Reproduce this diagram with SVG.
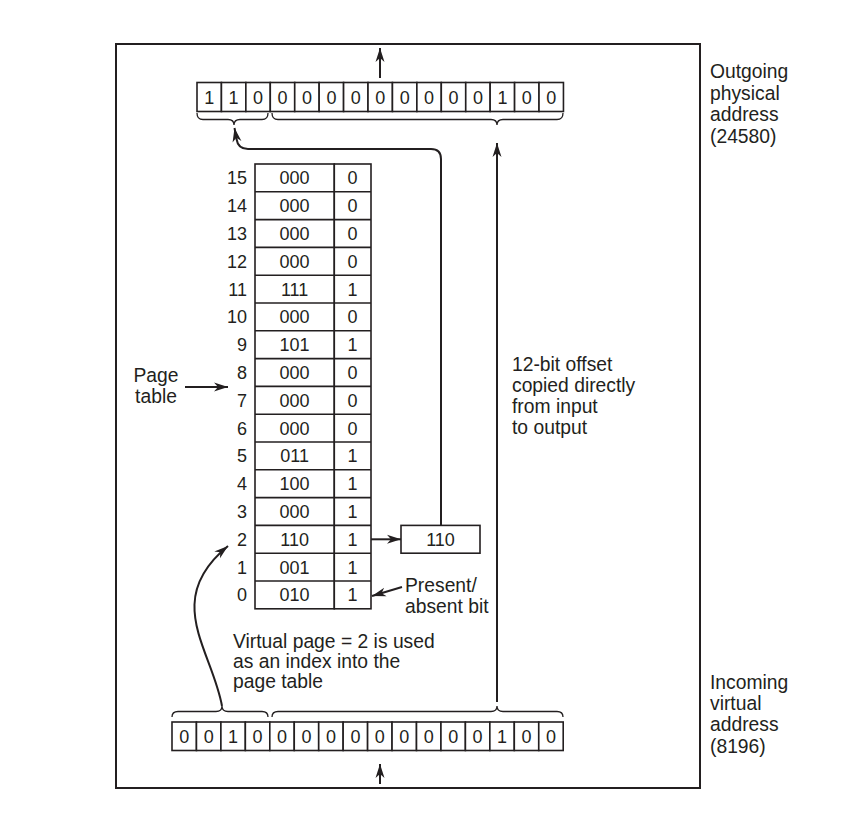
<svg xmlns="http://www.w3.org/2000/svg" width="868" height="816" viewBox="0 0 868 816">
<defs>
<style>
text{font-family:"Liberation Sans",Arial,sans-serif;font-size:18px;fill:#231f20}
.lb text{font-size:19.3px}
.c{text-anchor:middle}
.r{text-anchor:end}
.cell{fill:#fff;stroke:#231f20;stroke-width:1.6}
.ln{fill:none;stroke:#231f20;stroke-width:2}
.br{fill:none;stroke:#231f20;stroke-width:1.3}
</style>
<marker id="ah" markerUnits="userSpaceOnUse" markerWidth="16" markerHeight="10" viewBox="-14 -5 16 10" refX="0" refY="0" orient="auto">
<path d="M0,0 L-14,-4.5 L-10,0 L-14,4.5 Z" fill="#231f20"/>
</marker>
</defs>
<rect width="868" height="816" fill="#fff"/>
<rect id="frame" x="116" y="44" width="584" height="744" fill="none" stroke="#231f20" stroke-width="2"/>

<g id="outgoing">
<g id="outgoing-cells">
<rect class="cell" x="197" y="82.5" width="24.43" height="29"/>
<rect class="cell" x="221.43" y="82.5" width="24.43" height="29"/>
<rect class="cell" x="245.86" y="82.5" width="24.43" height="29"/>
<rect class="cell" x="270.29" y="82.5" width="24.43" height="29"/>
<rect class="cell" x="294.72" y="82.5" width="24.43" height="29"/>
<rect class="cell" x="319.15" y="82.5" width="24.43" height="29"/>
<rect class="cell" x="343.58" y="82.5" width="24.43" height="29"/>
<rect class="cell" x="368.01" y="82.5" width="24.43" height="29"/>
<rect class="cell" x="392.44" y="82.5" width="24.43" height="29"/>
<rect class="cell" x="416.87" y="82.5" width="24.43" height="29"/>
<rect class="cell" x="441.3" y="82.5" width="24.43" height="29"/>
<rect class="cell" x="465.73" y="82.5" width="24.43" height="29"/>
<rect class="cell" x="490.16" y="82.5" width="24.43" height="29"/>
<rect class="cell" x="514.59" y="82.5" width="24.43" height="29"/>
<rect class="cell" x="539.02" y="82.5" width="24.43" height="29"/>
</g>
<g class="c">
<text x="209.2" y="103.5">1</text>
<text x="233.6" y="103.5">1</text>
<text x="258.1" y="103.5">0</text>
<text x="282.5" y="103.5">0</text>
<text x="306.9" y="103.5">0</text>
<text x="331.4" y="103.5">0</text>
<text x="355.8" y="103.5">0</text>
<text x="380.2" y="103.5">0</text>
<text x="404.7" y="103.5">0</text>
<text x="429.1" y="103.5">0</text>
<text x="453.5" y="103.5">0</text>
<text x="477.9" y="103.5">0</text>
<text x="502.4" y="103.5">1</text>
<text x="526.8" y="103.5">0</text>
<text x="551.2" y="103.5">0</text>
</g>
<path class="br" d="M197,113 Q197,119.5 203,119.5 H228 Q234,119.5 234,125 Q234,119.5 240,119.5 H262 Q268,119.5 268,113"/>
<path class="br" d="M272,113 Q272,119.5 278,119.5 H491 Q497,119.5 497,125 Q497,119.5 503,119.5 H557 Q563,119.5 563,113"/>
<g class="lb">
<text x="710" y="78">Outgoing</text>
<text x="710" y="99.5">physical</text>
<text x="710" y="121">address</text>
<text x="710" y="142.5">(24580)</text>
</g>
</g>

<g id="incoming">
<g id="incoming-cells">
<rect class="cell" x="172" y="722" width="24.45" height="28.5"/>
<rect class="cell" x="196.45" y="722" width="24.45" height="28.5"/>
<rect class="cell" x="220.9" y="722" width="24.45" height="28.5"/>
<rect class="cell" x="245.35" y="722" width="24.45" height="28.5"/>
<rect class="cell" x="269.8" y="722" width="24.45" height="28.5"/>
<rect class="cell" x="294.25" y="722" width="24.45" height="28.5"/>
<rect class="cell" x="318.7" y="722" width="24.45" height="28.5"/>
<rect class="cell" x="343.15" y="722" width="24.45" height="28.5"/>
<rect class="cell" x="367.6" y="722" width="24.45" height="28.5"/>
<rect class="cell" x="392.05" y="722" width="24.45" height="28.5"/>
<rect class="cell" x="416.5" y="722" width="24.45" height="28.5"/>
<rect class="cell" x="440.95" y="722" width="24.45" height="28.5"/>
<rect class="cell" x="465.4" y="722" width="24.45" height="28.5"/>
<rect class="cell" x="489.85" y="722" width="24.45" height="28.5"/>
<rect class="cell" x="514.3" y="722" width="24.45" height="28.5"/>
<rect class="cell" x="538.75" y="722" width="24.45" height="28.5"/>
</g>
<g class="c">
<text x="184.2" y="742.5">0</text>
<text x="208.7" y="742.5">0</text>
<text x="233.1" y="742.5">1</text>
<text x="257.6" y="742.5">0</text>
<text x="282" y="742.5">0</text>
<text x="306.5" y="742.5">0</text>
<text x="330.9" y="742.5">0</text>
<text x="355.4" y="742.5">0</text>
<text x="379.8" y="742.5">0</text>
<text x="404.3" y="742.5">0</text>
<text x="428.7" y="742.5">0</text>
<text x="453.2" y="742.5">0</text>
<text x="477.6" y="742.5">0</text>
<text x="502.1" y="742.5">1</text>
<text x="526.5" y="742.5">0</text>
<text x="551" y="742.5">0</text>
</g>
<path class="br" d="M172,717 Q172,711.5 178,711.5 H216 Q222,711.5 222,706 Q222,711.5 228,711.5 H262 Q268,711.5 268,717"/>
<path class="br" d="M272,717 Q272,711.5 278,711.5 H491 Q497,711.5 497,706 Q497,711.5 503,711.5 H557 Q563,711.5 563,717"/>
<g class="lb">
<text x="710" y="688.5">Incoming</text>
<text x="710" y="709.5">virtual</text>
<text x="710" y="731">address</text>
<text x="710" y="752.5">(8196)</text>
</g>
</g>

<g id="page-table">
<rect class="cell" x="255" y="164" width="79.3" height="444.8"/>
<rect class="cell" x="334.3" y="164" width="36.7" height="444.8"/>
<g stroke="#231f20" stroke-width="1.6">
<line x1="255" y1="191.8" x2="371" y2="191.8"/>
<line x1="255" y1="219.6" x2="371" y2="219.6"/>
<line x1="255" y1="247.4" x2="371" y2="247.4"/>
<line x1="255" y1="275.2" x2="371" y2="275.2"/>
<line x1="255" y1="303" x2="371" y2="303"/>
<line x1="255" y1="330.8" x2="371" y2="330.8"/>
<line x1="255" y1="358.6" x2="371" y2="358.6"/>
<line x1="255" y1="386.4" x2="371" y2="386.4"/>
<line x1="255" y1="414.2" x2="371" y2="414.2"/>
<line x1="255" y1="442" x2="371" y2="442"/>
<line x1="255" y1="469.8" x2="371" y2="469.8"/>
<line x1="255" y1="497.6" x2="371" y2="497.6"/>
<line x1="255" y1="525.4" x2="371" y2="525.4"/>
<line x1="255" y1="553.2" x2="371" y2="553.2"/>
<line x1="255" y1="581" x2="371" y2="581"/>
</g>
<g class="r">
<text x="247" y="184.3">15</text>
<text x="247" y="212.1">14</text>
<text x="247" y="239.9">13</text>
<text x="247" y="267.7">12</text>
<text x="247" y="295.5">11</text>
<text x="247" y="323.3">10</text>
<text x="247" y="351.1">9</text>
<text x="247" y="378.9">8</text>
<text x="247" y="406.7">7</text>
<text x="247" y="434.5">6</text>
<text x="247" y="462.3">5</text>
<text x="247" y="490.1">4</text>
<text x="247" y="517.9">3</text>
<text x="247" y="545.7">2</text>
<text x="247" y="573.5">1</text>
<text x="247" y="601.3">0</text>
</g>
<g class="c">
<text x="294.6" y="184.3">000</text><text x="352.6" y="184.3">0</text>
<text x="294.6" y="212.1">000</text><text x="352.6" y="212.1">0</text>
<text x="294.6" y="239.9">000</text><text x="352.6" y="239.9">0</text>
<text x="294.6" y="267.7">000</text><text x="352.6" y="267.7">0</text>
<text x="294.6" y="295.5">111</text><text x="352.6" y="295.5">1</text>
<text x="294.6" y="323.3">000</text><text x="352.6" y="323.3">0</text>
<text x="294.6" y="351.1">101</text><text x="352.6" y="351.1">1</text>
<text x="294.6" y="378.9">000</text><text x="352.6" y="378.9">0</text>
<text x="294.6" y="406.7">000</text><text x="352.6" y="406.7">0</text>
<text x="294.6" y="434.5">000</text><text x="352.6" y="434.5">0</text>
<text x="294.6" y="462.3">011</text><text x="352.6" y="462.3">1</text>
<text x="294.6" y="490.1">100</text><text x="352.6" y="490.1">1</text>
<text x="294.6" y="517.9">000</text><text x="352.6" y="517.9">1</text>
<text x="294.6" y="545.7">110</text><text x="352.6" y="545.7">1</text>
<text x="294.6" y="573.5">001</text><text x="352.6" y="573.5">1</text>
<text x="294.6" y="601.3">010</text><text x="352.6" y="601.3">1</text>
</g>
<g class="lb">
<text class="c" x="156" y="382">Page</text>
<text class="c" x="156" y="403">table</text>
<text x="405" y="592">Present/</text>
<text x="405" y="613">absent bit</text>
</g>
</g>

<g id="frame-register">
<rect class="cell" x="401" y="525.4" width="79" height="27.8"/>
<text class="c" x="440.5" y="545.7">110</text>
</g>

<g id="notes" class="lb">
<text x="512" y="371">12-bit offset</text>
<text x="512" y="392">copied directly</text>
<text x="512" y="413">from input</text>
<text x="512" y="434">to output</text>
<text x="233" y="648">Virtual page = 2 is used</text>
<text x="233" y="668">as an index into the</text>
<text x="233" y="688">page table</text>
</g>

<g id="connectors">
<line class="ln" x1="380" y1="78" x2="380" y2="48" marker-end="url(#ah)"/>
<line class="ln" x1="380" y1="784" x2="380" y2="764" marker-end="url(#ah)"/>
<path class="ln" d="M441,525.4 V159 Q441,149 431,149 H248 Q238,149 236.5,139 L234.5,128" marker-end="url(#ah)"/>
<line class="ln" x1="497" y1="702" x2="497" y2="143" marker-end="url(#ah)"/>
<line class="ln" x1="371" y1="539.3" x2="401" y2="539.3" marker-end="url(#ah)"/>
<line class="ln" stroke-width="1.5" x1="185" y1="387" x2="228" y2="387" marker-end="url(#ah)"/>
<line class="ln" stroke-width="1.5" x1="402" y1="587" x2="372" y2="596" marker-end="url(#ah)"/>
<path class="ln" d="M222,706 C212,650 162,600 228,546" marker-end="url(#ah)"/>
</g>
</svg>
